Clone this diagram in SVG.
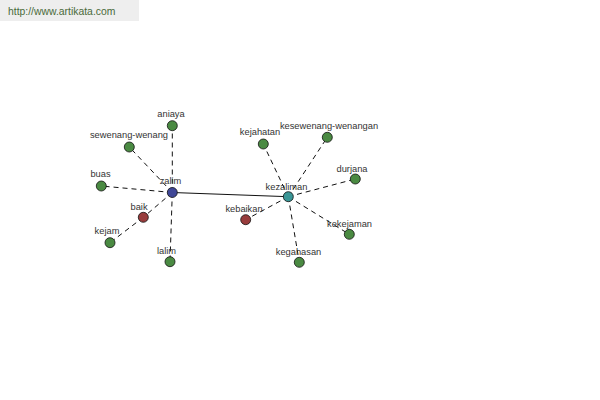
<svg xmlns="http://www.w3.org/2000/svg" width="600" height="400" viewBox="0 0 600 400">
<style>
text{font-family:"Liberation Sans",Arial,sans-serif;font-size:9.3px;fill:#333;text-anchor:middle}
.e{stroke:#111;stroke-width:1;fill:none;stroke-dasharray:5,4}
.s{stroke:#111;stroke-width:1;fill:none}
circle{stroke:#111;stroke-width:0.8}
.g{fill:#4a8a42}
.r{fill:#983c3c}
.b{fill:#3f4796}
.t{fill:#3a9696}
</style>
<rect x="0" y="0" width="139" height="21" fill="#eeeeee"/>
<text x="8" y="15" style="text-anchor:start;font-size:10.4px;fill:#4a6a3a">http://www.artikata.com</text>
<g id="connectors">
<line class="s" x1="172.3" y1="192.5" x2="288.3" y2="196.7"/>
<line class="e" x1="172.3" y1="192.5" x2="172.3" y2="125.7"/>
<line class="e" x1="172.3" y1="192.5" x2="129.3" y2="147"/>
<line class="e" x1="172.3" y1="192.5" x2="101.3" y2="186"/>
<line class="e" x1="172.3" y1="192.5" x2="143.3" y2="217.3"/>
<line class="e" x1="143.3" y1="217.3" x2="110" y2="242.7"/>
<line class="e" x1="172.3" y1="192.5" x2="170" y2="261.7"/>
<line class="e" x1="288.3" y1="196.7" x2="263.3" y2="144"/>
<line class="e" x1="288.3" y1="196.7" x2="327.3" y2="137.3"/>
<line class="e" x1="288.3" y1="196.7" x2="355.3" y2="179"/>
<line class="e" x1="288.3" y1="196.7" x2="349.3" y2="234.3"/>
<line class="e" x1="288.3" y1="196.7" x2="299.3" y2="262.3"/>
<line class="e" x1="288.3" y1="196.7" x2="245.7" y2="219.7"/>
</g>
<g id="zalim"><circle class="b" cx="172.3" cy="192.5" r="5"/><text x="170.5" y="184">zalim</text></g>
<g id="aniaya"><circle class="g" cx="172.3" cy="125.7" r="5"/><text x="171" y="117">aniaya</text></g>
<g id="sewenang-wenang"><circle class="g" cx="129.3" cy="147" r="5"/><text x="129" y="138">sewenang-wenang</text></g>
<g id="buas"><circle class="g" cx="101.3" cy="186" r="5"/><text x="100.5" y="176.5">buas</text></g>
<g id="baik"><circle class="r" cx="143.3" cy="217.3" r="5"/><text x="139" y="209.5">baik</text></g>
<g id="kejam"><circle class="g" cx="110" cy="242.7" r="5"/><text x="107" y="234">kejam</text></g>
<g id="lalim"><circle class="g" cx="170" cy="261.7" r="5"/><text x="166.5" y="253.5">lalim</text></g>
<g id="kezaliman"><circle class="t" cx="288.3" cy="196.7" r="5"/><text x="286.5" y="189.5">kezaliman</text></g>
<g id="kejahatan"><circle class="g" cx="263.3" cy="144" r="5"/><text x="260" y="135">kejahatan</text></g>
<g id="kesewenang-wenangan"><circle class="g" cx="327.3" cy="137.3" r="5"/><text x="329" y="129">kesewenang-wenangan</text></g>
<g id="durjana"><circle class="g" cx="355.3" cy="179" r="5"/><text x="352" y="171.5">durjana</text></g>
<g id="kekejaman"><circle class="g" cx="349.3" cy="234.3" r="5"/><text x="349.5" y="226.5">kekejaman</text></g>
<g id="kegahasan"><circle class="g" cx="299.3" cy="262.3" r="5"/><text x="298.5" y="255">kegahasan</text></g>
<g id="kebaikan"><circle class="r" cx="245.7" cy="219.7" r="5"/><text x="244" y="211.5">kebaikan</text></g>
</svg>
